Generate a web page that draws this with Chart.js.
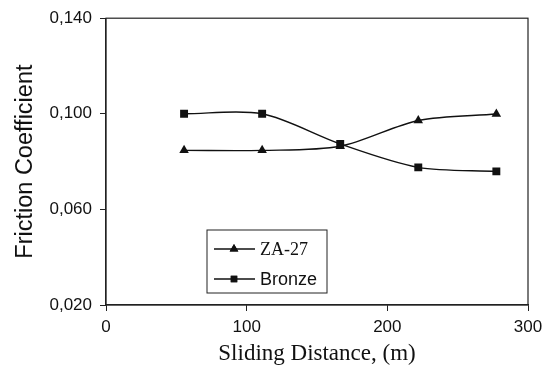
<!DOCTYPE html>
<html>
<head>
<meta charset="utf-8">
<script src="https://cdn.jsdelivr.net/npm/chart.js@4"></script>
<style>
  html, body { margin: 0; padding: 0; background: #fff; }
  #wrap { width: 551px; height: 370px; }
</style>
</head>
<body>
<div id="wrap"><canvas id="c"></canvas></div>
<script>
// Friction coefficient vs sliding distance, two alloys.
const distances = [55.5, 111, 166.5, 222, 277.5];
const za27 = [0.0847, 0.0847, 0.0864, 0.0972, 0.0999];
const bronze = [0.1000, 0.1000, 0.0874, 0.0776, 0.0759];
const seriesNames = ['ZA-27', 'Bronze'];
const xTicks = [0, 100, 200, 300];
const yTicks = [0.02, 0.06, 0.10, 0.14];

const INK = '#111';

function pairs(xs, ys) {
  return xs.map((x, i) => ({ x, y: ys[i] }));
}

// Box round the plot area (Excel-style frame).
const framePlugin = {
  id: 'frame',
  afterDraw(chart) {
    const { left, top, right, bottom } = chart.chartArea;
    const ctx = chart.ctx;
    ctx.save();
    ctx.strokeStyle = '#222';
    ctx.lineWidth = 1.2;
    ctx.strokeRect(left, top, right - left, bottom - top);
    ctx.restore();
  },
};

// Boxed legend sitting inside the plot, like the original.
const boxLegendPlugin = {
  id: 'boxLegend',
  afterDraw(chart, args, opts) {
    const ctx = chart.ctx;
    ctx.save();
    ctx.strokeStyle = '#222';
    ctx.lineWidth = 1;
    ctx.strokeRect(opts.x, opts.y, opts.w, opts.h);
    chart.data.datasets.forEach((ds, i) => {
      const cy = opts.y + opts.rowY[i];
      ctx.strokeStyle = INK;
      ctx.lineWidth = 1.3;
      ctx.beginPath();
      ctx.moveTo(opts.x + 7, cy);
      ctx.lineTo(opts.x + 48, cy);
      ctx.stroke();
      ctx.fillStyle = INK;
      Chart.helpers.drawPoint(ctx, {
        pointStyle: ds.pointStyle, radius: opts.markerRadius[i], rotation: 0, borderWidth: 0,
      }, opts.x + 27, cy);
      ctx.fill();
      ctx.fillStyle = '#111';
      ctx.font = opts.fonts[i];
      ctx.textBaseline = 'middle';
      ctx.textAlign = 'left';
      ctx.fillText(ds.label, opts.x + 53, cy + 1);
    });
    ctx.restore();
  },
};

const lineStyle = {
  borderColor: INK, backgroundColor: INK, pointBackgroundColor: INK, pointBorderColor: INK,
  borderWidth: 1.4, pointBorderWidth: 0, tension: 0.3, fill: false,
};

new Chart(document.getElementById('c'), {
  type: 'line',
  data: {
    datasets: [
      { ...lineStyle, label: seriesNames[0], data: pairs(distances, za27), pointStyle: 'triangle', pointRadius: 5.5 },
      { ...lineStyle, label: seriesNames[1], data: pairs(distances, bronze), pointStyle: 'rect', pointRadius: 5.6 },
    ],
  },
  options: {
    responsive: true, maintainAspectRatio: false, animation: false,
    layout: { padding: { top: 18, right: 23, left: 0, bottom: 0 } },
    scales: {
      x: {
        type: 'linear', min: 0, max: 300,
        afterBuildTicks(scale) { scale.ticks = xTicks.map((v) => ({ value: v })); },
        afterFit(scale) { scale.height = 65; },
        grid: { drawOnChartArea: false, drawTicks: true, tickLength: 6, color: '#222' },
        border: { display: true, color: '#222', width: 1.2 },
        ticks: { color: '#111', font: { family: 'Liberation Sans', size: 17 }, padding: 6, maxRotation: 0 },
        title: {
          display: true, text: 'Sliding Distance, (m)', color: '#111',
          font: { family: 'Liberation Serif', size: 23 }, padding: { top: 0, bottom: 2 },
        },
      },
      y: {
        type: 'linear', min: 0.02, max: 0.14,
        afterBuildTicks(scale) { scale.ticks = yTicks.map((v) => ({ value: v })); },
        afterFit(scale) { scale.width = 106; },
        grid: { drawOnChartArea: false, drawTicks: true, tickLength: 6, color: '#222' },
        border: { display: true, color: '#222', width: 1.2 },
        ticks: {
          color: '#111', font: { family: 'Liberation Sans', size: 17 }, padding: 8,
          callback: (v) => v.toFixed(3).replace('.', ','),
        },
        title: {
          display: true, text: 'Friction Coefficient', color: '#111',
          font: { family: 'Liberation Sans', size: 23.5 }, padding: { top: 11, bottom: 0 },
        },
      },
    },
    plugins: {
      legend: { display: false },
      tooltip: { enabled: false },
      boxLegend: {
        x: 207, y: 230, w: 120, h: 63, rowY: [19, 49],
        markerRadius: [5, 4.6],
        fonts: ['18px "Liberation Serif"', '18px "Liberation Sans"'],
      },
    },
  },
  plugins: [framePlugin, boxLegendPlugin],
});
</script>
</body>
</html>
